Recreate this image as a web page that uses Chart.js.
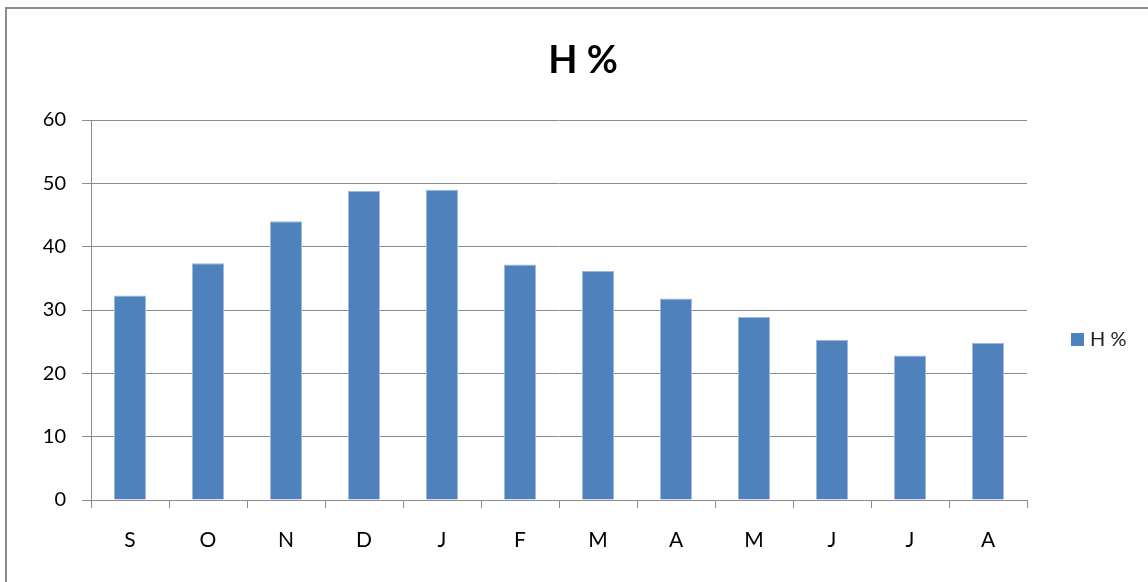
<!DOCTYPE html>
<html>
<head>
<meta charset="utf-8">
<script src="https://cdn.jsdelivr.net/npm/chart.js@4.4.1/dist/chart.umd.min.js"></script>
<style>
    html, body { margin: 0; padding: 0; background: #fff; }
    #wrap { position: relative; width: 1148px; height: 582px; overflow: hidden; }
    #frame { position: absolute; left: 5px; top: 7px; right: -10px; bottom: -10px;
             border-left: 2px solid #8c8c8c; border-top: 2px solid #8c8c8c; }
    canvas { position: absolute; left: 0; top: 0; }
</style>
</head>
<body>
<div id="wrap">
    <div id="frame"></div>
    <canvas id="mainChart" width="1148" height="582"></canvas>
</div>
<script>
// --- 1. DATA ---
const months = ["S", "O", "N", "D", "J", "F", "M", "A", "M", "J", "J", "A"];
const humidity = [32.3, 37.4, 44.0, 48.8, 49.0, 37.2, 36.2, 31.8, 28.9, 25.3, 22.8, 24.8];
const seriesLabel = "H %";
const chartTitle = "H %";

const FONT = "Lato, 'Liberation Sans', sans-serif";
const BAR_COLOR = "#4F81BD";
const GRID_COLOR = "#8c8c8c";

// --- 2. TITLE + LEGEND (drawn like the office chart) ---
const officeDecor = {
    id: 'officeDecor',
    afterDraw(chart) {
        const c = chart.ctx;
        c.save();
        c.fillStyle = "#000";
        c.font = "bold 38px " + FONT;
        c.textAlign = "center";
        c.textBaseline = "middle";
        c.fillText(chartTitle, 583, 61);

        // legend
        const ds = chart.data.datasets[0];
        c.fillStyle = ds.backgroundColor;
        c.fillRect(1071, 333, 13, 13);
        c.fillStyle = "#222";
        c.font = "20px " + FONT;
        c.textAlign = "left";
        c.fillText(ds.label, 1090, 340);
        c.restore();
    }
};

// --- 3. CHART ---
const ctxMain = document.getElementById('mainChart').getContext('2d');
const mainChart = new Chart(ctxMain, {
    type: 'bar',
    data: {
        labels: months,
        datasets: [{
            label: seriesLabel,
            data: humidity,
            backgroundColor: BAR_COLOR,
            borderColor: "#9DB9DD",
            borderWidth: 1,
            borderSkipped: 'bottom',
            barPercentage: 0.41,
            categoryPercentage: 1.0
        }]
    },
    options: {
        responsive: false,
        animation: false,
        layout: { padding: { top: 120, right: 121, left: 0, bottom: 0 } },
        plugins: {
            legend: { display: false },
            title: { display: false },
            tooltip: { enabled: false }
        },
        scales: {
            x: {
                afterFit: (s) => { s.height = 82; },
                grid: { display: true, drawOnChartArea: false, drawTicks: true, tickLength: 8, color: GRID_COLOR },
                border: { display: true, color: GRID_COLOR, width: 1 },
                ticks: { color: "#000", font: { family: FONT, size: 21 }, padding: 20 }
            },
            y: {
                min: 0,
                max: 60,
                afterFit: (s) => { s.width = 91; },
                grid: { color: GRID_COLOR, tickLength: 9, lineWidth: 1 },
                border: { display: true, color: GRID_COLOR, width: 1 },
                ticks: { stepSize: 10, color: "#000", font: { family: FONT, size: 20 }, padding: 16 }
            }
        }
    },
    plugins: [officeDecor]
});
</script>
</body>
</html>
